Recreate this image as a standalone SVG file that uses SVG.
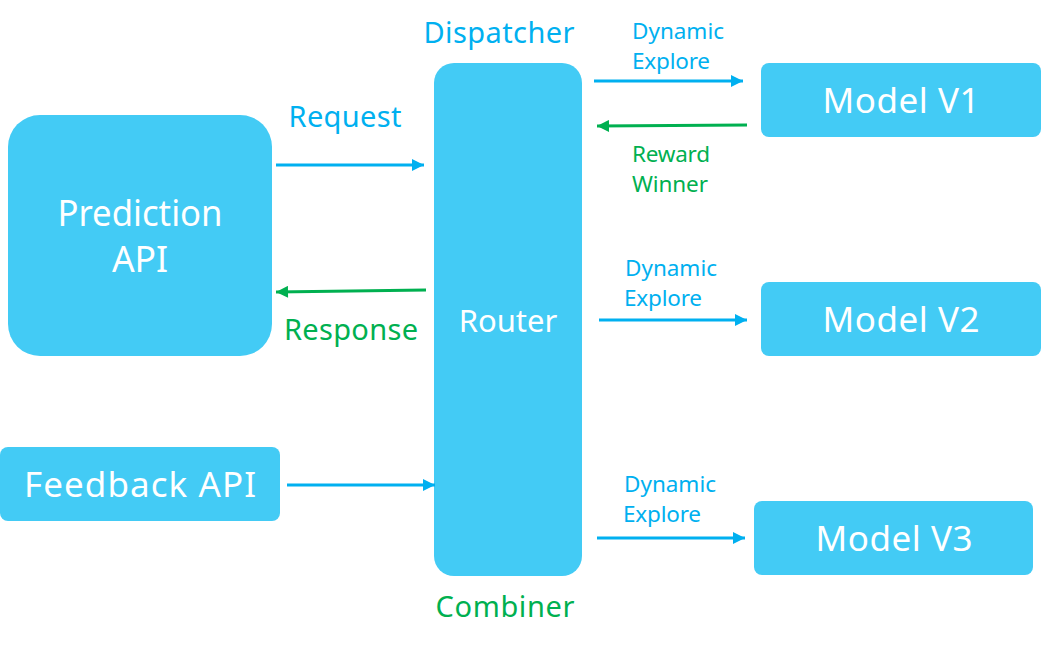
<svg xmlns="http://www.w3.org/2000/svg" width="1041" height="647" viewBox="0 0 1041 647">
<style>
.box{fill:#43CBF5}
.nt{fill:#fff;font-family:"Noto Sans","Liberation Sans",sans-serif;text-anchor:middle;dominant-baseline:central}
.lb{font-family:"Noto Sans","Liberation Sans",sans-serif;text-anchor:middle;dominant-baseline:central}
.blue{fill:#00B0F0}
.green{fill:#00B050}
.cb{stroke:#00B0F0;stroke-width:3;fill:none}
.cg{stroke:#00B050;stroke-width:3;fill:none}
</style>
<defs>
<marker id="ab" viewBox="0 0 10 10" refX="10" refY="5" markerWidth="4.5" markerHeight="4" markerUnits="strokeWidth" orient="auto"><path d="M0,0L10,5L0,10Z" fill="#00B0F0"/></marker>
<marker id="ag" viewBox="0 0 10 10" refX="10" refY="5" markerWidth="4.5" markerHeight="4" markerUnits="strokeWidth" orient="auto"><path d="M0,0L10,5L0,10Z" fill="#00B050"/></marker>
</defs>
<rect width="1041" height="647" fill="#fff"/>
<g id="prediction-api"><rect class="box" x="8" y="115" width="264" height="241" rx="32"/><text class="nt" x="140" y="211.5" font-size="35.5" textLength="165" lengthAdjust="spacingAndGlyphs">Prediction</text><text class="nt" x="140" y="257.5" font-size="35.5">API</text></g>
<g id="router"><rect class="box" x="434" y="63" width="148" height="513" rx="20"/><text class="nt" x="508" y="319.5" font-size="31">Router</text></g>
<g id="feedback-api"><rect class="box" x="0" y="447" width="280" height="74" rx="8"/><text class="nt" x="140" y="483.5" font-size="35" textLength="232">Feedback API</text></g>
<g id="model-v1"><rect class="box" x="761" y="63" width="280" height="74" rx="8"/><text class="nt" x="901" y="99.5" font-size="35" textLength="157">Model V1</text></g>
<g id="model-v2"><rect class="box" x="761" y="282" width="280" height="74" rx="8"/><text class="nt" x="901" y="318.5" font-size="35" textLength="157">Model V2</text></g>
<g id="model-v3"><rect class="box" x="754" y="501" width="279" height="74" rx="8"/><text class="nt" x="894" y="537.5" font-size="35" textLength="157">Model V3</text></g>
<g id="labels">
<text class="lb blue" x="499" y="31.5" font-size="29" textLength="151">Dispatcher</text>
<text class="lb green" x="505" y="605.5" font-size="29" textLength="139">Combiner</text>
<text class="lb blue" x="345" y="115.5" font-size="29" textLength="113">Request</text>
<text class="lb green" x="351" y="328.5" font-size="29" textLength="134">Response</text>
<text class="lb blue" x="678" y="30" font-size="22.5" textLength="92">Dynamic</text>
<text class="lb blue" x="671" y="60" font-size="22.5" textLength="78">Explore</text>
<text class="lb green" x="671" y="153" font-size="22.5" textLength="78">Reward</text>
<text class="lb green" x="670" y="183" font-size="22.5" textLength="76">Winner</text>
<text class="lb blue" x="671" y="267" font-size="22.5" textLength="92">Dynamic</text>
<text class="lb blue" x="663" y="297" font-size="22.5" textLength="78">Explore</text>
<text class="lb blue" x="670" y="483" font-size="22.5" textLength="92">Dynamic</text>
<text class="lb blue" x="662" y="513" font-size="22.5" textLength="78">Explore</text>
</g>
<g id="connectors">
<line class="cb" x1="276" y1="165" x2="424" y2="165" marker-end="url(#ab)"/>
<line class="cg" x1="426" y1="290" x2="276" y2="292" marker-end="url(#ag)"/>
<line class="cb" x1="287" y1="485" x2="435" y2="485" marker-end="url(#ab)"/>
<line class="cb" x1="594" y1="81" x2="743" y2="81" marker-end="url(#ab)"/>
<line class="cg" x1="747" y1="125" x2="597" y2="126" marker-end="url(#ag)"/>
<line class="cb" x1="599" y1="320" x2="747" y2="320" marker-end="url(#ab)"/>
<line class="cb" x1="597" y1="538" x2="745" y2="538" marker-end="url(#ab)"/>
</g>
</svg>
